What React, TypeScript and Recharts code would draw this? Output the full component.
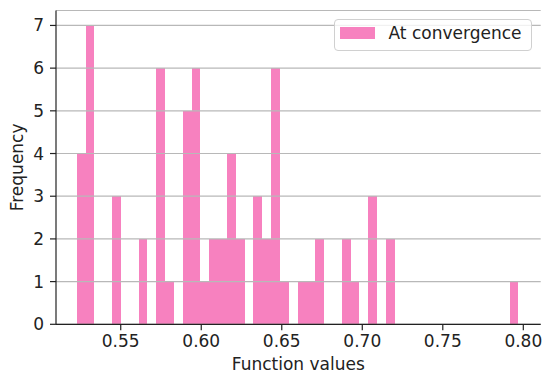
import React from "react";
import {
  BarChart,
  Bar,
  XAxis,
  YAxis,
  CartesianGrid,
  Legend,
} from "recharts";

// histogram of function values at convergence (50 bins)
const binStart = 0.5227;
const binWidth = 0.005485;
const binCounts = [
  4, 7, 0, 0, 3, 0, 0, 2, 0, 6,
  1, 0, 5, 6, 1, 2, 2, 4, 2, 0,
  3, 2, 6, 1, 0, 1, 1, 2, 0, 0,
  2, 1, 0, 3, 0, 2, 0, 0, 0, 0,
  0, 0, 0, 0, 0, 0, 0, 0, 0, 1,
];
const xTicks = [0.55, 0.6, 0.65, 0.7, 0.75, 0.8];
const yTicks = [0, 1, 2, 3, 4, 5, 6, 7];
const seriesName = "At convergence";

const xDomain: [number, number] = [0.5098, 0.8108];
const yDomain: [number, number] = [0, 7.35];

const FONT = "'DejaVu Sans', sans-serif";
const PINK = "#f781bf";
const SPINE = "#222";

const data = binCounts.map((count, i) => ({
  x: binStart + (i + 0.5) * binWidth,
  count,
}));

const tickStyle = { fill: "#222", fontSize: 17, fontFamily: FONT };

// snap bin edges to whole pixels so neighbouring bins meet without a seam
function BinRect(props: any) {
  const { x, y, width, height } = props;
  if (!height || height <= 0) return null;
  const left = Math.round(x);
  const right = Math.round(x + width + 0.012);
  return (
    <rect
      x={left}
      y={y}
      width={right - left}
      height={height}
      fill={PINK}
      shapeRendering="crispEdges"
    />
  );
}

function LegendBox() {
  return (
    <div
      style={{
        position: "relative",
        boxSizing: "border-box",
        width: 198,
        height: 31.4,
        border: "1px solid #d0d0d0",
        borderRadius: 4,
        background: "rgba(255,255,255,0.8)",
        fontFamily: FONT,
        fontSize: 17,
        color: "#222",
      }}
    >
      <span
        style={{
          position: "absolute",
          left: 5,
          top: 7,
          width: 35,
          height: 12,
          background: PINK,
        }}
      />
      <span style={{ position: "absolute", left: 53.5, top: 2.6, whiteSpace: "nowrap" }}>
        {seriesName}
      </span>
    </div>
  );
}

export default function App() {
  return (
    <div style={{ position: "absolute", left: 0, top: 0, background: "#fff" }}>
      <BarChart
        width={543}
        height={374}
        data={data}
        margin={{ top: 10.5, right: 2.3, left: 0, bottom: 0 }}
        barCategoryGap={0}
        barGap={0}
      >
        <XAxis
          dataKey="x"
          type="number"
          domain={xDomain}
          allowDataOverflow
          ticks={xTicks}
          tickFormatter={(v: number) => v.toFixed(2)}
          height={49.7}
          tickSize={6}
          tickMargin={5}
          tick={tickStyle}
          axisLine={{ stroke: SPINE, strokeWidth: 1.2 }}
          tickLine={{ stroke: SPINE, strokeWidth: 1.2 }}
          label={{
            value: "Function values",
            position: "insideBottom",
            offset: 4,
            style: { fill: "#222", fontSize: 17, fontFamily: FONT },
          }}
        />
        <XAxis
          xAxisId="top"
          orientation="top"
          dataKey="x"
          type="number"
          domain={xDomain}
          allowDataOverflow
          height={0}
          tick={false}
          tickLine={false}
          axisLine={{ stroke: SPINE, strokeWidth: 1.2 }}
        />
        <YAxis
          domain={yDomain}
          ticks={yTicks}
          allowDataOverflow
          width={56}
          tickSize={6}
          tickMargin={6}
          tick={tickStyle}
          axisLine={{ stroke: SPINE, strokeWidth: 1.2 }}
          tickLine={{ stroke: SPINE, strokeWidth: 1.2 }}
          label={{
            value: "Frequency",
            angle: -90,
            position: "insideLeft",
            offset: 16.5,
            style: { textAnchor: "middle", fill: "#222", fontSize: 17, fontFamily: FONT },
          }}
        />
        <YAxis
          yAxisId="right"
          orientation="right"
          domain={yDomain}
          width={0}
          tick={false}
          tickLine={false}
          axisLine={{ stroke: SPINE, strokeWidth: 1.2 }}
        />
        <Bar
          dataKey="count"
          name={seriesName}
          fill={PINK}
          barSize={8.82}
          shape={BinRect}
          isAnimationActive={false}
        />
        <CartesianGrid
          vertical={false}
          stroke="#b8b8b8"
          strokeWidth={1.2}
          zIndex={400}
        />
        <Legend
          layout="vertical"
          align="center"
          verticalAlign="middle"
          content={() => <LegendBox />}
          wrapperStyle={{ left: 334, top: 19.3, width: 198, height: 31.4 }}
        />
      </BarChart>
    </div>
  );
}
